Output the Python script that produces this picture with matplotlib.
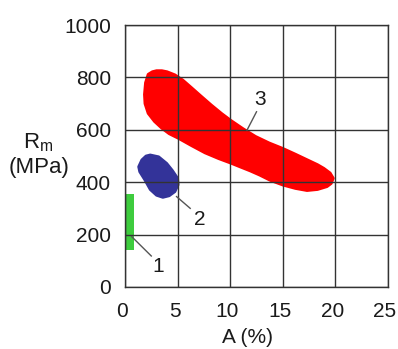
import matplotlib
matplotlib.use("Agg")
import matplotlib.pyplot as plt
import matplotlib.transforms as mtransforms
from matplotlib.patches import Polygon, Rectangle

plt.rcParams['font.family'] = ['Liberation Sans', 'DejaVu Sans']

x_ticks = [0, 5, 10, 15, 20, 25]
y_ticks = [0, 200, 400, 600, 800, 1000]

# region 3 (red) outline: A (%), Rm (MPa)
red_A = [2.2, 2.6, 3.0, 3.5, 4.0, 4.75, 5.5, 6.3, 7.2, 8.2, 9.2, 10.1, 11.2, 12.4, 13.7, 15.0,
         16.2, 17.3, 18.3, 18.9, 19.5, 19.8, 19.6, 19.2, 18.3, 17.3, 16.2, 15.0, 13.8,
         12.8, 11.9, 10.9, 10.1, 8.9, 7.6, 6.3, 5.1, 4.2, 3.5, 2.8, 2.2, 1.9, 1.85, 1.95]
red_Rm = [812, 822, 826, 826, 822, 810, 790, 762, 730, 695, 662, 635, 605, 575, 550, 529,
          507, 486, 467, 453, 435, 415, 395, 383, 372, 368, 376, 389, 407,
          427, 443, 459, 472, 490, 512, 540, 567, 585, 606, 632, 663, 700, 735, 780]

# region 2 (blue)
blue_A = [2.4, 3.2, 3.96, 4.5, 5.0, 5.05, 4.75, 4.2, 3.6, 3.0, 2.4, 1.9, 1.4, 1.3, 1.6, 2.0]
blue_Rm = [504, 497, 472, 445, 415, 390, 364, 348, 342, 350, 372, 408, 440, 459, 485, 500]

# region 1 (green)
green_A = [0.05, 0.85]
green_Rm = [140, 355]

labels = ["1", "2", "3"]
label_pos_A = [3.2, 7.1, 12.8]
label_pos_Rm = [78, 256, 714]
leader_from_A = [0.64, 4.9, 11.6]
leader_from_Rm = [192, 345, 599]
leader_to_A = [2.5, 6.2, 12.5]
leader_to_Rm = [118, 300, 669]

fig = plt.figure(figsize=(3.98, 3.49), dpi=100)
ax = fig.add_axes([0.314, 0.178, 0.661, 0.750])
ax.set_xlim(0, 25)
ax.set_ylim(0, 1000)
ax.set_xticks(x_ticks)
ax.set_yticks(y_ticks)
for s in ax.spines.values():
    s.set_color('#333333')
    s.set_linewidth(1.0)
    s.set_zorder(3)
ax.tick_params(length=0, labelsize=15, colors='#1a1a1a')
ax.tick_params(axis='x', pad=11)
ax.tick_params(axis='y', pad=10)
shift = mtransforms.ScaledTranslation(-3 / 100, 0, fig.dpi_scale_trans)
for lbl in ax.get_xticklabels():
    lbl.set_transform(lbl.get_transform() + shift)

ax.add_patch(Polygon(list(zip(red_A, red_Rm)), closed=True, facecolor='#ff0000',
                     edgecolor='#ff0000', linewidth=2, joinstyle='round', zorder=1))
ax.add_patch(Polygon(list(zip(blue_A, blue_Rm)), closed=True, facecolor='#333399',
                     edgecolor='#333399', linewidth=2, joinstyle='round', zorder=1))
ax.add_patch(Rectangle((green_A[0], green_Rm[0]), green_A[1] - green_A[0],
                       green_Rm[1] - green_Rm[0], facecolor='#3ecc3e', edgecolor='none', zorder=1))
for xv in x_ticks:
    ax.axvline(xv, color='#333333', linewidth=1.0, zorder=2)
for yv in y_ticks:
    ax.axhline(yv, color='#333333', linewidth=1.0, zorder=2)

for lab, lx, ly, fx, fy, tx, ty in zip(labels, label_pos_A, label_pos_Rm, leader_from_A,
                                        leader_from_Rm, leader_to_A, leader_to_Rm):
    ax.plot([fx, tx], [fy, ty], color='#555555', linewidth=1.0, zorder=3, clip_on=False)
    ax.text(lx, ly, lab, fontsize=15, ha='center', va='center', color='#1a1a1a', zorder=4)

fig.text(0.621, 0.034, "A (%)", fontsize=15, ha='center', va='center', color='#1a1a1a')
fig.text(0.097, 0.592, r"R$_\mathregular{m}$", fontsize=16, ha='center', va='center', color='#1a1a1a')
fig.text(0.097, 0.519, "(MPa)", fontsize=16, ha='center', va='center', color='#1a1a1a')

fig.savefig("out.png", dpi=100)
